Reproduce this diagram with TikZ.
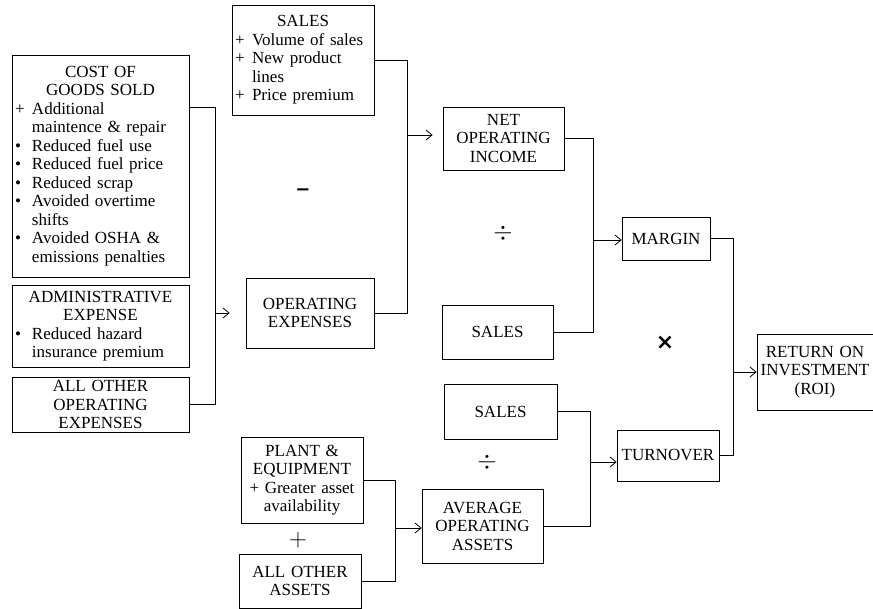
\documentclass[tikz,border=0pt]{standalone}
\usepackage{amsmath}
\usepackage{fontspec}
\setmainfont{Liberation Serif}
\newfontfamily\signfont{DejaVu Sans}
\usetikzlibrary{arrows.meta}
% list lines inside the boxes
\newcommand{\li}[2]{\makebox[\linewidth][l]{\makebox[1em][l]{#1}#2}}
\newcommand{\lc}[1]{\li{}{#1}}

\begin{document}
\begin{tikzpicture}[x=1pt, y=-1pt, line width=0.8pt,
    box/.style={draw, align=center, inner xsep=3pt, inner ysep=0pt, font=\fontsize{17}{18.5}\selectfont},
    arr/.style={-{Straight Barb[length=6pt,width=10pt]}},
    sign/.style={font=\fontsize{25}{25}\selectfont},
    boldsign/.style={font=\signfont\bfseries\fontsize{18}{18}\selectfont}]
    \useasboundingbox (0,0) rectangle (873,609);

    % expenses
    \node[box, text width=171pt, minimum height=222pt] (cogs) at (100.5,166) {COST OF\\GOODS SOLD\\\li{+}{Additional}\\\lc{maintence \& repair}\\\li{\textbullet}{Reduced fuel use}\\\li{\textbullet}{Reduced fuel price}\\\li{\textbullet}{Reduced scrap}\\\li{\textbullet}{Avoided overtime}\\\lc{shifts}\\\li{\textbullet}{Avoided OSHA \&}\\\lc{emissions penalties}};
    \node[box, text width=171pt, minimum height=82pt] (admin) at (100.5,326) {ADMINISTRATIVE\\EXPENSE\\\li{\textbullet}{Reduced hazard}\\\lc{insurance premium}};
    \node[box, text width=171pt, minimum height=55pt] (othopex) at (100.5,404.5) {ALL OTHER\\OPERATING\\EXPENSES};

    \node[box, text width=136pt, minimum height=110pt] (salesA) at (303,60) {SALES\\\li{+}{Volume of sales}\\\li{+}{New product}\\\lc{lines}\\\li{+}{Price premium}};
    \node[box, text width=122pt, minimum height=70pt] (opex) at (310,313) {OPERATING\\EXPENSES};
    \node[boldsign] (minus) at (303,192) {−};

    % margin
    \node[box, text width=115pt, minimum height=63pt] (noi) at (503.5,138.5) {NET\\OPERATING\\INCOME};
    \node[box, text width=105pt, minimum height=54pt] (salesB) at (497.5,332) {SALES};
    \node[sign] (divA) at (503,233) {$\div$};
    \node[box, text width=82pt, minimum height=43pt] (margin) at (666,238.5) {MARGIN};

    % turnover
    \node[box, text width=107pt, minimum height=55pt] (salesC) at (500.5,411.5) {SALES};
    \node[sign] (divB) at (487,462) {$\div$};
    \node[box, text width=115pt, minimum height=74pt] (aoa) at (482.5,526) {AVERAGE\\OPERATING\\ASSETS};
    \node[box, text width=116pt, minimum height=86pt] (plant) at (302,480) {PLANT \&\\EQUIPMENT\\+ Greater asset\\availability};
    \node[sign] (plus) at (298,540) {$+$};
    \node[box, text width=116pt, minimum height=54pt] (othassets) at (300,581) {ALL OTHER\\ASSETS};
    \node[box, text width=96pt, minimum height=51pt] (turnover) at (668,455.5) {TURNOVER};

    \node[boldsign, font=\signfont\bfseries\fontsize{22}{22}\selectfont] (times) at (665,343) {×};
    \node[box, text width=110pt, minimum height=76pt] (roi) at (815,372) {RETURN ON\\INVESTMENT\\(ROI)};

    % connectors
    \coordinate (busL) at (215,313);
    \coordinate (busS) at (407,135);
    \coordinate (busM) at (593,240);
    \coordinate (busT) at (590,462);
    \coordinate (busA) at (395,528);
    \coordinate (busR) at (733,372);

    \draw ([yshift=-53pt]cogs.north east) -| (busL);
    \draw (othopex.east) -| (busL);
    \draw[arr, shorten >=16pt] (busL) -- (opex.west);

    \draw (salesA.east) -| (busS);
    \draw (opex.east) -| (busS);
    \draw[arr, shorten >=10pt] (busS) -- (noi.west |- busS);

    \draw (noi.east) -| (busM);
    \draw (salesB.east) -| (busM);
    \draw[arr] (busM) -- (margin.west |- busM);

    \draw (plant.east) -| (busA);
    \draw (othassets.east) -| (busA);
    \draw[arr] (busA) -- (aoa.west |- busA);

    \draw (salesC.east) -| (busT);
    \draw (aoa.east) -| (busT);
    \draw[arr] (busT) -- (turnover.west |- busT);

    \draw (margin.east) -| (busR);
    \draw (turnover.east) -| (busR);
    \draw[arr] (busR) -- (roi.west);
\end{tikzpicture}
\end{document}
